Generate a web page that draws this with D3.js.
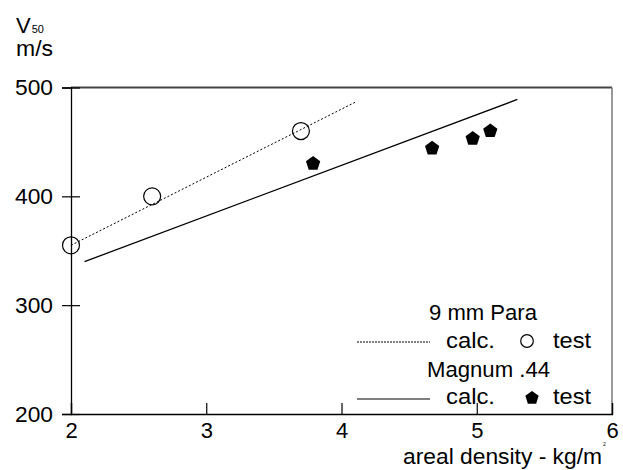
<!DOCTYPE html>
<html>
<head>
<meta charset="utf-8">
<script src="https://cdn.jsdelivr.net/npm/d3@7"></script>
<style>
body { margin: 0; background: #fff; }
text { font-family: "Liberation Sans", Arial, sans-serif; fill: #000; }
</style>
</head>
<body>
<svg id="chart" width="623" height="470"></svg>
<script>
// data
var paraTest = [[2.0, 355], [2.6, 400], [3.7, 460]];
var paraCalc = [[2.0, 355], [4.11, 487]];
var magnumTest = [[3.79, 431], [4.67, 445], [4.97, 454], [5.10, 461]];
var magnumCalc = [[2.1, 340], [5.3, 489]];
var xTicks = [2, 3, 4, 5, 6];
var yTicks = [200, 300, 400, 500];

var svg = d3.select("#chart");
var fs = 22;

var x = d3.scaleLinear().domain([2, 6]).range([71, 612]);
var y = d3.scaleLinear().domain([200, 500]).range([414, 87.5]);

// frame: top and right
svg.append("line").attr("x1", x(2)).attr("x2", x(6)).attr("y1", y(500)).attr("y2", y(500))
	.attr("stroke", "#444").attr("stroke-width", 2);
svg.append("line").attr("x1", x(6)).attr("x2", x(6)).attr("y1", y(500)).attr("y2", y(200))
	.attr("stroke", "#777").attr("stroke-width", 1.5);

// x axis, ticks pointing up
var xAxis = svg.append("g").attr("transform", "translate(0," + y(200) + ")")
	.call(d3.axisBottom(x).tickValues(xTicks).tickSize(-11).tickPadding(8).tickFormat(d3.format("d")));
xAxis.select(".domain").attr("stroke", "#000").attr("stroke-width", 1.3);
xAxis.selectAll(".tick line").attr("stroke", "#000").attr("stroke-width", 1.2);
xAxis.selectAll(".tick text").attr("font-size", fs).attr("font-family", "Liberation Sans, Arial, sans-serif");

// y axis, ticks crossing the line
var yAxis = svg.append("g").attr("transform", "translate(" + x(2) + ",0)")
	.call(d3.axisLeft(y).tickValues(yTicks).tickSize(9).tickPadding(9));
yAxis.select(".domain").attr("stroke", "#000").attr("stroke-width", 1.3);
yAxis.selectAll(".tick line").attr("stroke", "#000").attr("stroke-width", 1.2).attr("x2", 9).attr("x1", -9);
yAxis.selectAll(".tick text").attr("font-size", fs).attr("font-family", "Liberation Sans, Arial, sans-serif")
	.attr("x", -18).attr("textLength", 38).attr("lengthAdjust", "spacingAndGlyphs");

var line = d3.line().x(function(d) { return x(d[0]); }).y(function(d) { return y(d[1]); });

svg.append("path").datum(paraCalc).attr("d", line)
	.attr("fill", "none").attr("stroke", "#000").attr("stroke-width", 1).attr("stroke-dasharray", "2,2");
svg.append("path").datum(magnumCalc).attr("d", line)
	.attr("fill", "none").attr("stroke", "#000").attr("stroke-width", 1.3);

svg.selectAll(".para").data(paraTest).enter().append("circle")
	.attr("class", "para")
	.attr("cx", function(d) { return x(d[0]); })
	.attr("cy", function(d) { return y(d[1]); })
	.attr("r", 8.5).attr("fill", "none").attr("stroke", "#000").attr("stroke-width", 1.2);

function pentagon(r) {
	var pts = [];
	for (var i = 0; i < 5; i++) {
		var a = -Math.PI / 2 + i * 2 * Math.PI / 5;
		pts.push([r * Math.cos(a), r * Math.sin(a)]);
	}
	return "M" + pts.join("L") + "Z";
}
svg.selectAll(".magnum").data(magnumTest).enter().append("path")
	.attr("class", "magnum")
	.attr("d", pentagon(7.5))
	.attr("transform", function(d) { return "translate(" + x(d[0]) + "," + (y(d[1]) + 1) + ")"; })
	.attr("fill", "#000");

// legend
function label(px, py, str, w, anchor) {
	var t = svg.append("text").attr("x", px).attr("y", py).attr("font-size", fs).text(str);
	if (anchor) t.attr("text-anchor", anchor);
	if (w) t.attr("textLength", w).attr("lengthAdjust", "spacingAndGlyphs");
	return t;
}
label(429, 320, "9 mm Para", 108);
svg.append("line").attr("x1", 357).attr("x2", 430).attr("y1", 342).attr("y2", 342)
	.attr("stroke", "#000").attr("stroke-dasharray", "2,1").attr("stroke-width", 1);
label(446, 348, "calc.", 49);
svg.append("circle").attr("cx", 527).attr("cy", 341).attr("r", 6.3).attr("fill", "none").attr("stroke", "#000").attr("stroke-width", 1.2);
label(553, 348, "test", 38);

label(427, 377, "Magnum .44", 123);
svg.append("line").attr("x1", 357).attr("x2", 430).attr("y1", 399).attr("y2", 399)
	.attr("stroke", "#000").attr("stroke-width", 1.2);
label(446, 404, "calc.", 49);
svg.append("path").attr("d", pentagon(7)).attr("transform", "translate(532,398)").attr("fill", "#000");
label(553, 404, "test", 38);

// axis titles
var yt = svg.append("text").attr("x", 16).attr("y", 33).attr("font-size", fs);
yt.append("tspan").text("V");
yt.append("tspan").attr("font-size", 11).attr("dx", 1).text("50");
label(16, 56, "m/s", 37);

label(403, 464, "areal density - kg/m", 199);
svg.append("text").attr("x", 603).attr("y", 446).attr("font-size", 5).text("2");
</script>
</body>
</html>
